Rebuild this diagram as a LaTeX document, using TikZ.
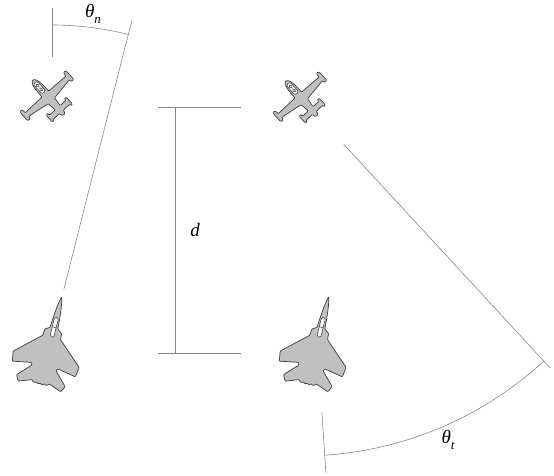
\documentclass[tikz,border=0pt]{standalone}
\usepackage{fontspec}
\newfontfamily\labelfont{Liberation Serif}
\usetikzlibrary{calc}
\definecolor{planefill}{RGB}{192,192,192}
\definecolor{planeline}{RGB}{60,60,60}
\definecolor{guide}{RGB}{135,135,135}
\newcommand{\anglelabel}[1]{{\labelfont\itshape θ\raisebox{-0.28em}{\fontsize{13}{13}\selectfont #1}}}
\begin{document}
\begin{tikzpicture}[x=1pt,y=1pt,
  guideline/.style={draw=guide, line width=0.6pt},
  hull/.style={fill=planefill, draw=planeline, line width=0.7pt, line join=round, rounded corners=0.8pt},
  glass/.style={fill=white, draw=planeline, line width=0.55pt},
  lbl/.style={font=\fontsize{19}{21}\selectfont, inner sep=0pt},
  trainer/.pic={
    % straight-wing trainer, nose up, origin at the wing root
    \draw[hull] (0,23) -- (2.2,21.5) -- (3.6,18) -- (4.2,13) -- (4.4,8) -- (4.4,4)
      -- (27.5,3.5) -- (27.5,6.5) -- (28.5,8) -- (30,8) -- (31,6.5) -- (31,-3)
      -- (30,-4.5) -- (28.5,-4.5) -- (27.5,-3) -- (27.5,-1.5) -- (4.4,-5)
      -- (4,-8) -- (3.2,-14.5) -- (11,-14.5) -- (11,-12.5) -- (12.3,-11.8)
      -- (13.5,-12.8) -- (13.5,-21) -- (12.3,-22) -- (11,-21.2) -- (11,-20)
      -- (2.6,-20) -- (2,-23) -- (0,-24)
      -- (-2,-23) -- (-2.6,-20) -- (-11,-20) -- (-11,-21.2) -- (-12.3,-22)
      -- (-13.5,-21) -- (-13.5,-12.8) -- (-12.3,-11.8) -- (-11,-12.5) -- (-11,-14.5)
      -- (-3.2,-14.5) -- (-4,-8) -- (-4.4,-5) -- (-27.5,-1.5) -- (-27.5,-3)
      -- (-28.5,-4.5) -- (-30,-4.5) -- (-31,-3) -- (-31,6.5) -- (-30,8)
      -- (-28.5,8) -- (-27.5,6.5) -- (-27.5,3.5) -- (-4.4,4) -- (-4.4,8)
      -- (-4.2,13) -- (-3.6,18) -- (-2.2,21.5) -- cycle;
    \draw[glass, rounded corners=2.3pt] (-2.5,6) rectangle (2.5,19.5);
    \draw[draw=planeline, fill=planefill!70, line width=0.5pt] (0,15.3) ellipse [x radius=1.4, y radius=1.9];
    \draw[draw=planeline, fill=planefill!70, line width=0.5pt] (0,10.3) ellipse [x radius=1.4, y radius=1.9];
  },
  eagle/.pic={
    % twin-engine fighter, nose up, origin behind the cockpit
    \draw[hull] (0,40.5) -- (1.1,36) -- (2.1,30) -- (3,22) -- (3.6,14) -- (4,8)
      -- (8.6,5) -- (9.2,-1.5) -- (34,-24) -- (32.5,-34) -- (13.5,-30.5) -- (12.5,-33)
      -- (25,-46) -- (22,-52) -- (8.5,-47) -- (7.5,-49) -- (5.5,-49.5) -- (4.2,-48)
      -- (2.7,-49.5) -- (0.9,-49.5) -- (0,-48.5)
      -- (-0.9,-49.5) -- (-2.7,-49.5) -- (-4.2,-48) -- (-5.5,-49.5) -- (-7.5,-49)
      -- (-8.5,-47) -- (-22,-52) -- (-25,-46) -- (-12.5,-33) -- (-13.5,-30.5)
      -- (-32.5,-34) -- (-34,-24) -- (-9.2,-1.5) -- (-8.6,5) -- (-4,8)
      -- (-3.6,14) -- (-3,22) -- (-2.1,30) -- (-1.1,36) -- cycle;
    \draw[glass, rounded corners=1.5pt] (-2,-1) rectangle (2,19);
    \draw[draw=planeline, line width=0.5pt] (-2,9) -- (2,9);
  }]
\useasboundingbox (0,0) rectangle (554,475);

% reference points of the four aircraft
\coordinate (trainerL) at (48,378);
\coordinate (trainerR) at (301,377);
\coordinate (eagleL) at (52,139);
\coordinate (eagleR) at (319,139);

\pic[shift={(trainerL)}, rotate=42, transform shape] {trainer};
\pic[shift={(trainerR)}, rotate=42, transform shape] {trainer};
\pic[shift={(eagleL)}, rotate=-14, transform shape] {eagle};
\pic[shift={(eagleR)}, rotate=-14, transform shape] {eagle};

% heading angle theta_n
\draw[guideline] ($(eagleL)+(90:279)$) -- ($(eagleL)+(90:328)$);
\draw[guideline] ($(eagleL)+(75.8:48.5)$) -- ($(eagleL)+(75.8:326)$);
\draw[guideline] ($(eagleL)+(75.8:311)$) arc[start angle=75.8, end angle=90, radius=311];
\node[lbl] (thn) at (93,461) {\anglelabel{n}};

% separation d
\coordinate (dtopL) at (158,368);
\coordinate (dtopR) at (241,368);
\coordinate (dbotL) at (158,122);
\coordinate (dbotR) at (241,122);
\coordinate (dtop) at (175,368);
\coordinate (dbot) at (175,122);
\draw[guideline] (dtopL) -- (dtopR);
\draw[guideline] (dbotL) -- (dbotR);
\draw[guideline] (dtop) -- (dbot);
\node[lbl] (dl) at (195,245) {\labelfont\itshape d};

% aspect angle theta_t
\draw[guideline] ($(trainerR)+(-86.2:315)$) -- ($(trainerR)+(-86.2:376)$);
\draw[guideline] ($(trainerR)+(-47.3:63)$) -- ($(trainerR)+(-47.3:367)$);
\draw[guideline] ($(trainerR)+(-86.2:358)$) arc[start angle=-86.2, end angle=-47.3, radius=358];
\node[lbl] (tht) at (448,35) {\anglelabel{t}};
\end{tikzpicture}
\end{document}
